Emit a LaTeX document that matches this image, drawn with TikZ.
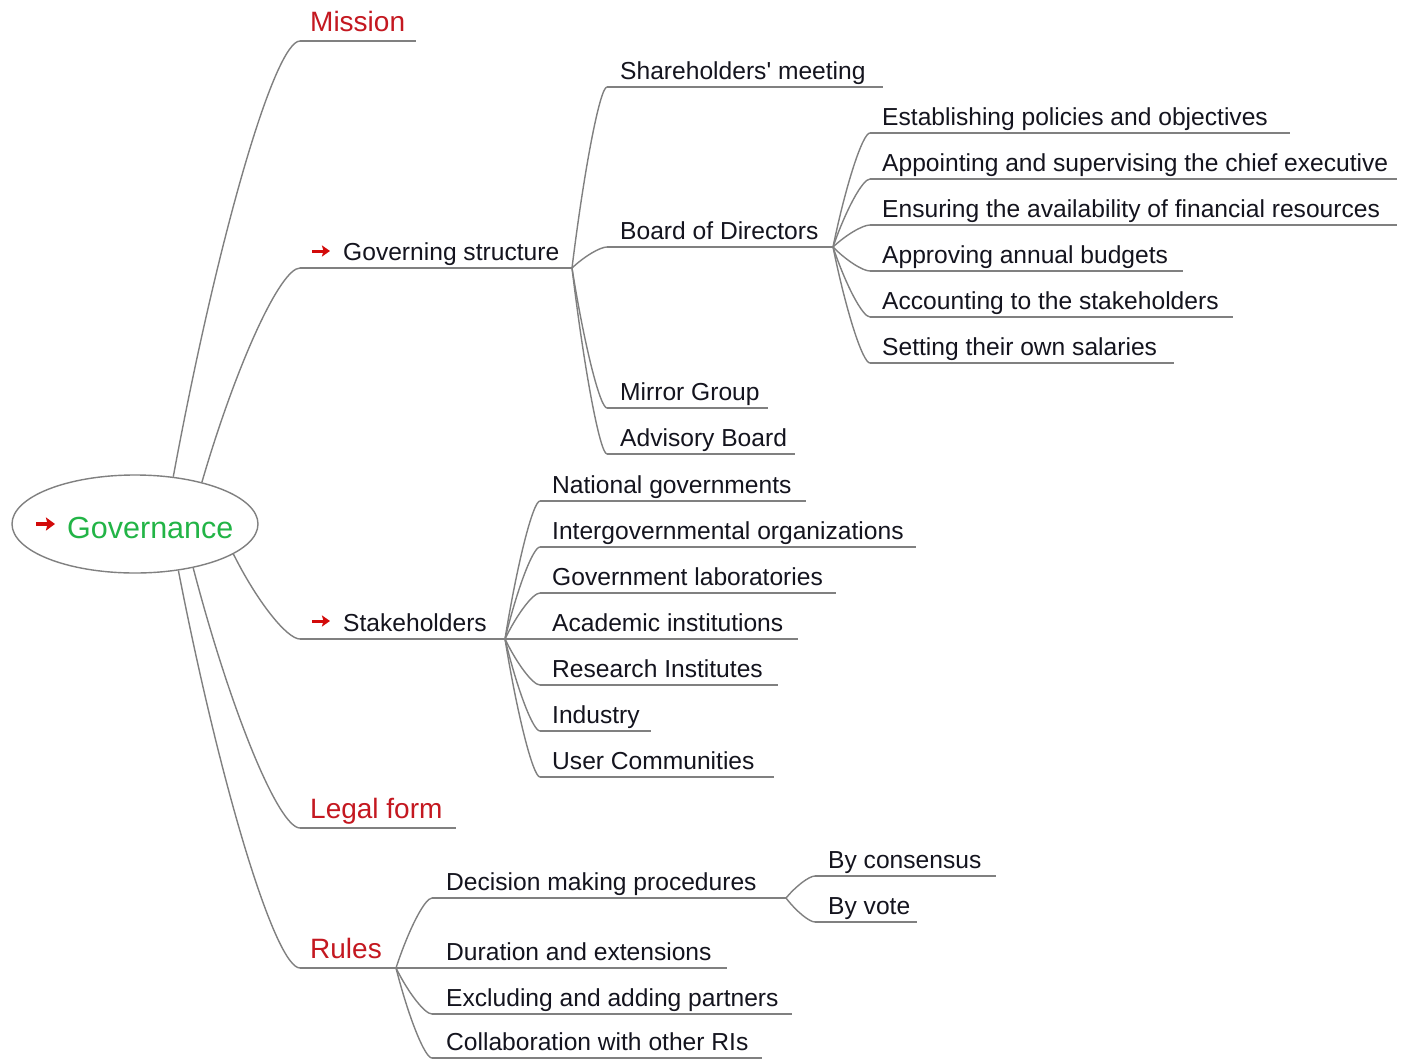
\documentclass[tikz,border=0pt]{standalone}
\usepackage{fontspec}
\setmainfont{Liberation Sans}[Ligatures=TeXOff]
\usetikzlibrary{shapes.geometric,arrows.meta,calc}

\definecolor{linegray}{RGB}{128,128,128}
\definecolor{leafink}{RGB}{20,20,30}
\definecolor{topicred}{RGB}{196,24,32}
\definecolor{rootgreen}{RGB}{34,180,70}
\definecolor{markred}{RGB}{210,10,10}

\tikzset{
  conn/.style={draw=linegray, line width=1.4pt},
  uline/.style={draw=linegray, line width=1.4pt},
  leaf/.style={text=leafink, font=\fontsize{24.6}{28}\selectfont, inner sep=0pt, anchor=base west, yshift=8pt},
  topic/.style={text=topicred, font=\fontsize{28}{32}\selectfont, inner sep=0pt, anchor=base west, yshift=10pt},
  rootshape/.style={ellipse, draw=linegray, line width=1.4pt, fill=white,
    minimum width=246pt, minimum height=98pt, inner sep=0pt},
  roottext/.style={text=rootgreen, font=\fontsize{30.5}{34}\selectfont, inner sep=0pt, anchor=base west},
  bigmarker/.style={draw=markred, line width=3.4pt, -{Stealth[length=9pt,width=13pt,inset=1.5pt]}},
  smallmarker/.style={draw=markred, line width=3pt, -{Stealth[length=8pt,width=11pt,inset=1.5pt]}},
}

% a topic: label on top of a horizontal rule
% #1 name, #2 text x, #3 rule y, #4 rule start x, #5 rule end x, #6 style, #7 text
\newcommand\mmleaf[7]{%
  \coordinate (#1-in) at (#4,#3);
  \coordinate (#1-out) at (#5,#3);
  \node[#6] (#1) at (#2,#3) {#7};
  \draw[uline] (#1-in) -- (#1-out);
}
% curved connector from a parent point to the start of a child's rule
\newcommand\mmlink[2]{%
  \draw[conn] let \p1=(#1), \p2=(#2) in
    (\p1) .. controls ({\x1+0.35*(\x2-\x1)},{\y1+0.55*(\y2-\y1)})
            and ({\x2-0.2*(\x2-\x1)},\y2) .. (\p2);
}

\begin{document}
\begin{tikzpicture}[x=1pt,y=-1pt]
\fill[white] (0,0) rectangle (1403,1060);
\useasboundingbox (0,0) rectangle (1403,1060);

% central topic
\node[rootshape] (root) at (135,524) {};
\node[roottext] (rootlabel) at (67,538) {Governance};
\draw[bigmarker] (36,524) -- (55,524);

% main topics
\mmleaf{mission}{310}{41}{300}{416}{topic}{Mission}
\mmleaf{gov}{343}{268}{300}{572}{leaf}{Governing structure}
\mmleaf{stake}{343}{639}{300}{505}{leaf}{Stakeholders}
\mmleaf{legal}{310}{828}{300}{456}{topic}{Legal form}
\mmleaf{rules}{310}{968}{300}{396}{topic}{Rules}
\draw[smallmarker] (312,251) -- (330,251);
\draw[smallmarker] (312,621) -- (330,621);

\mmlink{root.51}{mission-in}
\mmlink{root.32}{gov-in}
\mmlink{root.-17}{stake-in}
\mmlink{root.-37}{legal-in}
\mmlink{root.-47}{rules-in}

% governing structure
\mmleaf{share}{620}{87}{607}{883}{leaf}{Shareholders' meeting}
\mmleaf{board}{620}{247}{607}{833}{leaf}{Board of Directors}
\mmleaf{mirror}{620}{408}{607}{768}{leaf}{Mirror Group}
\mmleaf{advisory}{620}{454}{607}{795}{leaf}{Advisory Board}
\foreach \c in {share,board,mirror,advisory} {\mmlink{gov-out}{\c-in}}

% board of directors
\mmleaf{bd1}{882}{133}{870}{1290}{leaf}{Establishing policies and objectives}
\mmleaf{bd2}{882}{179}{870}{1397}{leaf}{Appointing and supervising the chief executive}
\mmleaf{bd3}{882}{225}{870}{1397}{leaf}{Ensuring the availability of financial resources}
\mmleaf{bd4}{882}{271}{870}{1183}{leaf}{Approving annual budgets}
\mmleaf{bd5}{882}{317}{870}{1233}{leaf}{Accounting to the stakeholders}
\mmleaf{bd6}{882}{363}{870}{1174}{leaf}{Setting their own salaries}
\foreach \c in {bd1,bd2,bd3,bd4,bd5,bd6} {\mmlink{board-out}{\c-in}}

% stakeholders
\mmleaf{sh1}{552}{501}{540}{806}{leaf}{National governments}
\mmleaf{sh2}{552}{547}{540}{916}{leaf}{Intergovernmental organizations}
\mmleaf{sh3}{552}{593}{540}{836}{leaf}{Government laboratories}
\mmleaf{sh4}{552}{639}{540}{798}{leaf}{Academic institutions}
\mmleaf{sh5}{552}{685}{540}{778}{leaf}{Research Institutes}
\mmleaf{sh6}{552}{731}{540}{651}{leaf}{Industry}
\mmleaf{sh7}{552}{777}{540}{774}{leaf}{User Communities}
\foreach \c in {sh1,sh2,sh3,sh4,sh5,sh6,sh7} {\mmlink{stake-out}{\c-in}}

% rules
\mmleaf{ru1}{446}{898}{432}{786}{leaf}{Decision making procedures}
\mmleaf{ru2}{446}{968}{432}{727}{leaf}{Duration and extensions}
\mmleaf{ru3}{446}{1014}{432}{792}{leaf}{Excluding and adding partners}
\mmleaf{ru4}{446}{1058}{432}{762}{leaf}{Collaboration with other RIs}
\foreach \c in {ru1,ru2,ru3,ru4} {\mmlink{rules-out}{\c-in}}

% decision making procedures
\mmleaf{dm1}{828}{876}{815}{996}{leaf}{By consensus}
\mmleaf{dm2}{828}{922}{815}{917}{leaf}{By vote}
\foreach \c in {dm1,dm2} {\mmlink{ru1-out}{\c-in}}
\end{tikzpicture}
\end{document}
